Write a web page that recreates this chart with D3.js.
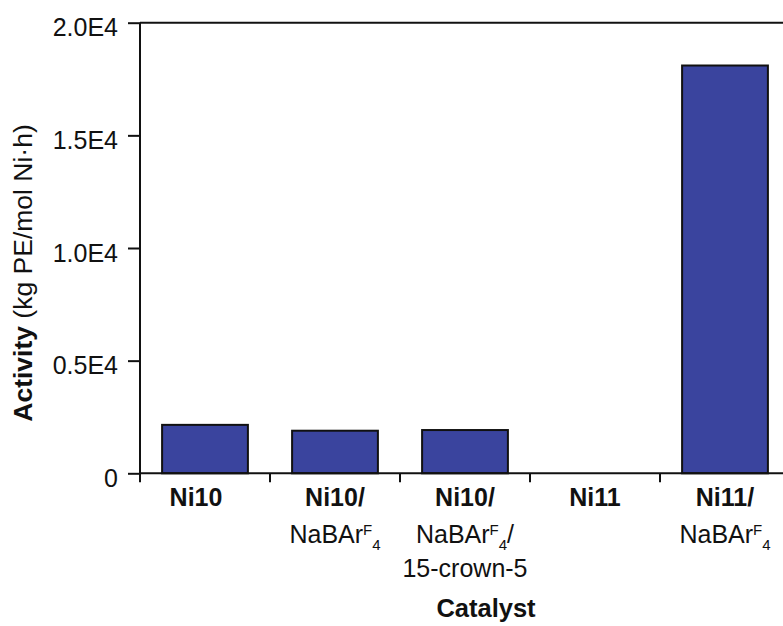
<!DOCTYPE html>
<html>
<head>
<meta charset="utf-8">
<script src="https://cdn.jsdelivr.net/npm/d3@7"></script>
<style>
  html, body { margin: 0; padding: 0; background: #fff; }
  svg { display: block; font-family: "Liberation Sans", Arial, Helvetica, sans-serif; }
</style>
</head>
<body>
<svg id="chart" width="783" height="626"></svg>
<script>
// Catalyst keys and their ethylene polymerization activity (kg PE / mol Ni·h)
const categories = ["Ni10", "Ni10/NaBArF4", "Ni10/NaBArF4/15-crown-5", "Ni11", "Ni11/NaBArF4"];
const activity = [2150, 1890, 1920, 0, 18100];

// Axis-label lines for each catalyst: bold head, NaBArF4 line, extra line
const labelHead = ["Ni10", "Ni10/", "Ni10/", "Ni11", "Ni11/"];
const labelSalt = ["", "NaBAr", "NaBAr", "", "NaBAr"];
const labelSaltTail = ["", "", "/", "", ""];
const labelExtra = ["", "", "15-crown-5", "", ""];

const yTicks = [0, 5000, 10000, 15000, 20000];
const yTickLabels = ["0", "0.5E4", "1.0E4", "1.5E4", "2.0E4"];

const yTitleBold = "Activity";
const yTitleRest = " (kg PE/mol Ni\u00B7h)";
const xTitle = "Catalyst";

const svg = d3.select("#chart");
const plotLeft = 140, plotRight = 790, plotTop = 22.7, plotBottom = 473.3;
const ink = "#111";
const fontSize = 25;

const x = d3.scaleBand()
  .domain(categories)
  .range([plotLeft, plotRight])
  .paddingInner(0.34)
  .paddingOuter(0.17);

const y = d3.scaleLinear().domain([0, 20000]).range([plotBottom, plotTop]);

// Bars
svg.append("g").selectAll("rect")
  .data(categories.map((c, i) => ({ c, v: activity[i] })).filter(d => d.v > 0))
  .join("rect")
  .attr("x", d => x(d.c))
  .attr("y", d => y(d.v))
  .attr("width", x.bandwidth())
  .attr("height", d => y(0) - y(d.v))
  .attr("fill", "#3a449e")
  .attr("stroke", ink)
  .attr("stroke-width", 2);

// Y axis with ticks and labels
const yAxis = d3.axisLeft(y)
  .tickValues(yTicks)
  .tickFormat((d, i) => yTickLabels[i])
  .tickSize(12)
  .tickSizeOuter(0)
  .tickPadding(10);

const gy = svg.append("g")
  .attr("transform", `translate(${plotLeft},0)`)
  .call(yAxis);
gy.select(".domain").remove();
gy.selectAll(".tick line").attr("stroke", ink).attr("stroke-width", 2);
gy.selectAll(".tick text")
  .attr("font-size", fontSize)
  .attr("font-family", "Liberation Sans, Arial, sans-serif")
  .attr("fill", ink)
  .attr("dy", "0.52em");

// Vertical axis line, running slightly below the baseline
svg.append("line")
  .attr("x1", plotLeft).attr("x2", plotLeft)
  .attr("y1", y(20000)).attr("y2", y(0) + 9)
  .attr("stroke", ink).attr("stroke-width", 2);

// Baseline and top frame line
[0, 20000].forEach(v => {
  svg.append("line")
    .attr("x1", plotLeft).attr("x2", 783)
    .attr("y1", y(v)).attr("y2", y(v))
    .attr("stroke", ink).attr("stroke-width", 2);
});

// Category separators below the baseline
const step = x.step();
d3.range(1, categories.length).forEach(i => {
  const bx = plotLeft + i * step;
  svg.append("line")
    .attr("x1", bx).attr("x2", bx)
    .attr("y1", y(0)).attr("y2", y(0) + 9)
    .attr("stroke", ink).attr("stroke-width", 2);
});

// Category labels
const lineY = [506, 543, 577];
categories.forEach((c, i) => {
  const cx = x(c) + x.bandwidth() / 2 - (i === 0 ? 9 : 0);
  const g = svg.append("g").attr("fill", ink).attr("font-size", fontSize);
  g.append("text")
    .attr("x", cx).attr("y", lineY[0])
    .attr("text-anchor", "middle")
    .attr("font-weight", "bold")
    .text(labelHead[i]);
  if (labelSalt[i]) {
    const t = g.append("text")
      .attr("x", cx).attr("y", lineY[1])
      .attr("text-anchor", "middle");
    t.append("tspan").text(labelSalt[i]);
    t.append("tspan").attr("font-size", 15).attr("dy", -8).text("F");
    t.append("tspan").attr("font-size", 15).attr("dy", 15).text("4");
    if (labelSaltTail[i]) t.append("tspan").attr("dy", -7).text(labelSaltTail[i]);
  }
  if (labelExtra[i]) {
    g.append("text")
      .attr("x", cx).attr("y", lineY[2])
      .attr("text-anchor", "middle")
      .text(labelExtra[i]);
  }
});

// Axis titles
const yt = svg.append("text")
  .attr("transform", "translate(32,273) rotate(-90)")
  .attr("text-anchor", "middle")
  .attr("font-size", 26.5)
  .attr("fill", ink);
yt.append("tspan").attr("font-weight", "bold").text(yTitleBold);
yt.append("tspan").text(yTitleRest);

svg.append("text")
  .attr("x", x(categories[2]) + x.bandwidth() / 2 + 21)
  .attr("y", 617)
  .attr("text-anchor", "middle")
  .attr("font-size", 25.5)
  .attr("font-weight", "bold")
  .attr("fill", ink)
  .text(xTitle);
</script>
</body>
</html>
